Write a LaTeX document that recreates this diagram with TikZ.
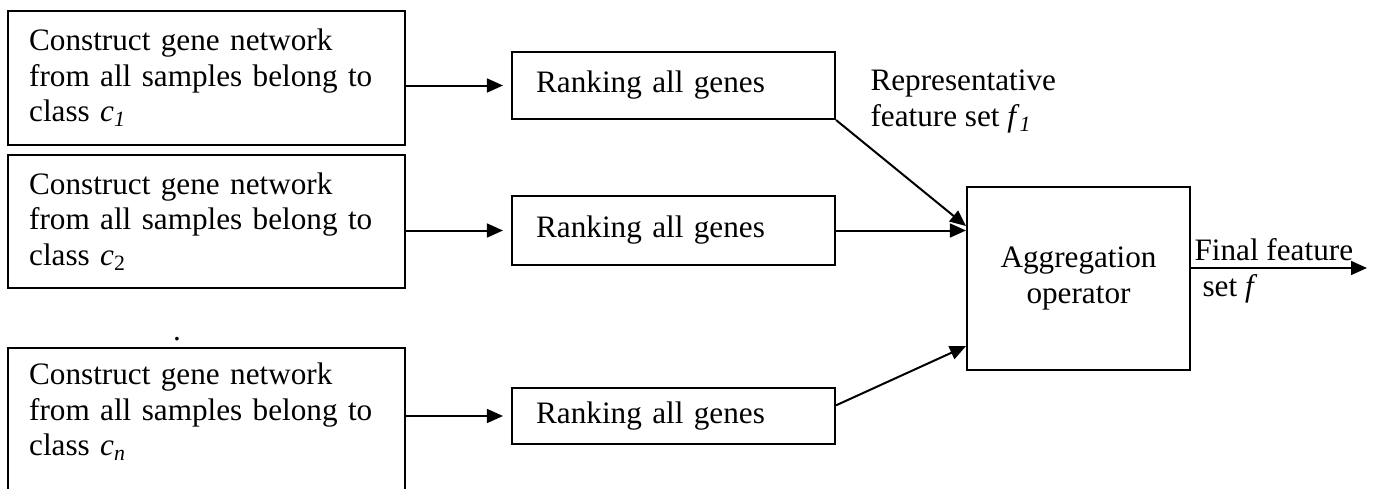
\documentclass[tikz,border=0pt]{standalone}
\usepackage{fontspec}
\setmainfont{Liberation Serif}
\usetikzlibrary{arrows.meta}

\begin{document}
\begin{tikzpicture}[x=0.375pt, y=-0.375pt,
    font=\fontsize{11.7}{13.3}\selectfont,
    classbox/.style={draw, line width=0.8pt, minimum width=148.9pt,
        text width=133pt, inner xsep=7.9pt, inner ysep=1pt, align=left},
    rankbox/.style={draw, line width=0.8pt, minimum width=121.1pt,
        text width=103pt, inner xsep=9pt, align=left},
    arr/.style={line width=0.75pt, -{Triangle[length=6pt, width=5.2pt]}}]

    \useasboundingbox (0,0) rectangle (1375,489);

    % One gene network per class
    \node[classbox, minimum height=50.25pt] (net1) at (206.5,78)
        {Construct gene network\\from all samples belong to\\class \textit{c}\textsubscript{\textit{1}}};
    \node[classbox, minimum height=50pt] (net2) at (206.5,221.5)
        {Construct gene network\\from all samples belong to\\class \textit{c}\textsubscript{2}};
    \node[inner sep=0] (gap) at (177,339) {.};
    \node[classbox, minimum height=53.6pt] (netn) at (206.5,419.5)
        {Construct gene network\\from all samples belong to\\class \textit{c}\textsubscript{\textit{n}}\rule[-7.7pt]{0pt}{7.7pt}};

    % Ranking step
    \node[rankbox, minimum height=25.1pt] (rank1) at (673.5,85.5) {Ranking all genes};
    \node[rankbox, minimum height=25.9pt] (rank2) at (673.5,230.5) {Ranking all genes};
    \node[rankbox, minimum height=21pt] (rankn) at (673.5,416) {Ranking all genes};

    % Aggregation
    \node[draw, line width=0.8pt, minimum width=83.6pt, minimum height=68.6pt,
        align=center] (agg) at (1078.5,278.5) {Aggregation\\operator};

    % Labels
    \node[anchor=west, inner sep=0, align=left] (rep) at (870,101.5)
        {Representative\\feature set \textit{f}\textsubscript{\textit{1}}};
    \node[anchor=west, inner sep=0, align=left] (final) at (1194,271)
        {Final feature\\\hspace*{3pt}set \textit{f}};

    % Arrows
    \foreach \i in {1,2,n} {
        \draw[arr, shorten >=3pt] (net\i.east |- rank\i.west) -- (rank\i.west);
    }
    \draw[arr] (rank1.south east) -- (agg.155);
    \draw[arr] (rank2.east) -- (rank2.east -| agg.west);
    \draw[arr] ([yshift=4pt]rankn.east) -- (agg.211);
    \coordinate (out) at (1367,268);
    \draw[arr] (agg.east |- out) -- (out);
\end{tikzpicture}
\end{document}
